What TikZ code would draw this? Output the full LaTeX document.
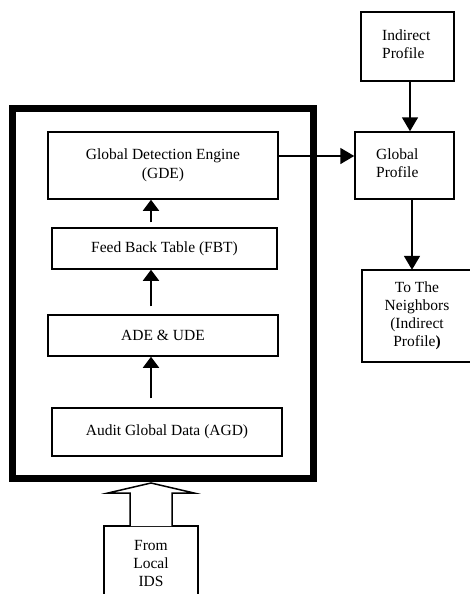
\documentclass[tikz,border=0pt]{standalone}
\usepackage{fontspec}
\setmainfont{Liberation Serif}
\usetikzlibrary{arrows.meta}
\begin{document}
\begin{tikzpicture}[x=1pt,y=-1pt,
  box/.style={draw, line width=1.5pt, inner sep=0pt, align=center,
    font=\fontsize{15.5}{18}\selectfont},
  txt/.style={inner sep=0pt, font=\fontsize{15.5}{18}\selectfont},
  inarrow/.style={line width=1.8pt, -{Triangle[width=16pt,length=11pt]}},
  outarrow/.style={line width=1.8pt, -{Triangle[width=16pt,length=14pt]}},
  openbox/.style={line width=1.5pt}]
\useasboundingbox (0,0) rectangle (470,594);
% outer thick frame
\node[draw, line width=7pt, minimum width=301pt, minimum height=370pt, inner sep=0pt] (outer) at (163,293.5) {};
% inner boxes
\node[box, minimum width=230pt, minimum height=67pt] (gde) at (163,165.5) {Global Detection Engine\\[1pt](GDE)};
\node[box, minimum width=225pt, minimum height=41pt] (fbt) at (164.5,248.5) {Feed Back Table (FBT)};
\node[box, minimum width=230pt, minimum height=41pt] (ade) at (163,335.5) {ADE \& UDE};
\node[box, minimum width=230pt, minimum height=48pt] (agd) at (167,432) {Audit Global Data (AGD)};
% inner arrows
\coordinate (ax) at (151,0);
\draw[inarrow, shorten <=5pt] (fbt.north -| ax) -- (gde.south -| ax);
\draw[inarrow, shorten <=8pt] (ade.north -| ax) -- (fbt.south -| ax);
\draw[inarrow, shorten <=9pt] (agd.north -| ax) -- (ade.south -| ax);
% right side boxes
\node[box, minimum width=93pt, minimum height=69pt] (ip) at (407.5,46.5) {};
\node[txt, anchor=west, align=left] at (382,44) {Indirect\\Profile};
\node[box, minimum width=99pt, minimum height=67pt] (gp) at (404.5,165.5) {};
\node[txt, anchor=west, align=left] at (376,163) {Global\\Profile};
\node[txt, minimum width=110pt, minimum height=92pt, align=center] (nb) at (417,316) {To The\\Neighbors\\(Indirect\\Profile\textbf{)}};
\draw[openbox] (nb.north east) -- (nb.north west) -- (nb.south west) -- (nb.south east);
% outer arrows
\coordinate (ipx) at (410,0);
\coordinate (gpx) at (412,0);
\coordinate (gdey) at (0,156);
\draw[outarrow] (ip.south -| ipx) -- (gp.north -| ipx);
\draw[outarrow] (gde.east |- gdey) -- (gp.west |- gdey);
\draw[outarrow] (gp.south -| gpx) -- (nb.north -| gpx);
% from local IDS
\node[txt, minimum width=94pt, minimum height=74pt, align=center] (loc) at (151,563) {From\\Local\\IDS};
\draw[openbox] (loc.south west) -- (loc.north west) -- (loc.north east) -- (loc.south east);
% hollow arrow
\coordinate (tip) at (outer.south -| loc.north);
\draw[line width=1.5pt, line join=miter, fill=white]
  (130,526) -- (130,493) -- (108,493) -- ([yshift=-1pt]tip) -- (194,493) -- (172,493) -- (172,526);
\end{tikzpicture}
\end{document}
